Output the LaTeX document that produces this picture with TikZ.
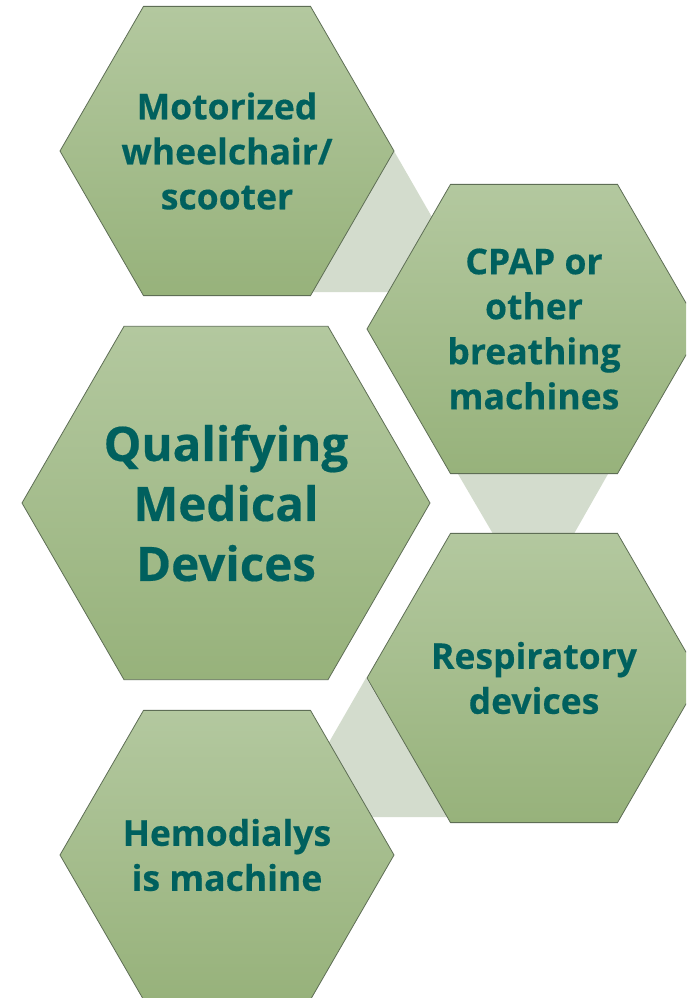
\documentclass[tikz,border=0pt]{standalone}
\usepackage{fontspec}
\setmainfont{Open Sans}[BoldFeatures={FakeBold=0.4}]
\usetikzlibrary{shapes.geometric,calc}
\definecolor{hextop}{HTML}{B3C89F}
\definecolor{hexbot}{HTML}{97B27B}
\definecolor{hexline}{HTML}{5E6E55}
\definecolor{linkfill}{HTML}{D3DCCD}
\definecolor{labelteal}{HTML}{00605E}
\tikzset{
  hexbox/.style={regular polygon, regular polygon sides=6, inner sep=0pt,
    top color=hextop, bottom color=hexbot, draw=hexline, line width=0.8pt},
  smallhex/.style={hexbox, minimum size=334pt},
  bighex/.style={hexbox, minimum size=408pt},
  hexlabel/.style={text=labelteal, font=\bfseries, align=center},
  smalltext/.style={hexlabel, font=\bfseries\fontsize{35.5}{45}\selectfont},
  bigtext/.style={hexlabel, font=\bfseries\fontsize{47.5}{60}\selectfont},
  link/.style={fill=linkfill, draw=none}
}
\begin{document}
\begin{tikzpicture}[x=1pt,y=-1pt]
  \useasboundingbox (0,0) rectangle (686,998);
  \clip (0,0) rectangle (686,998);
  \fill[white] (0,0) rectangle (686,998);

  % hexagon centres
  \path (227,151) coordinate (c1)
        (534,329) coordinate (c2)
        (534,678) coordinate (c3)
        (227,855) coordinate (c4)
        (226,503) coordinate (c0);

  % connecting bands between neighbouring hexagons (drawn behind them)
  \path[link] ($(c1)+(167,0)$) -- ($(c1)+(248,141)$) -- ($(c1)+(85,141)$) -- cycle;
  \path[link] ($(c2)+(-76,145)$) -- ($(c2)+(74,145)$) -- ($(c2)+(0,275)$) -- cycle;
  \path[link] ($(c3)+(-168,0)$) -- ($(c3)+(-248,139)$) -- ($(c3)+(-86,139)$) -- cycle;

  % hexagons
  \node[smallhex] (h1) at (c1) {};
  \node[smallhex] (h2) at (c2) {};
  \node[smallhex] (h3) at (c3) {};
  \node[smallhex] (h4) at (c4) {};
  \node[bighex]   (h0) at (c0) {};

  % labels
  \node[smalltext] (t1) at (h1) {Motorized\\wheelchair/\\scooter};
  \node[smalltext] (t2) at (h2) {CPAP or\\other\\breathing\\machines};
  \node[smalltext] (t3) at (h3) {Respiratory\\devices};
  \node[smalltext] (t4) at (h4) {Hemodialys\\is machine};
  \node[bigtext]   (t0) at (h0) {Qualifying\\Medical\\Devices};
\end{tikzpicture}
\end{document}
